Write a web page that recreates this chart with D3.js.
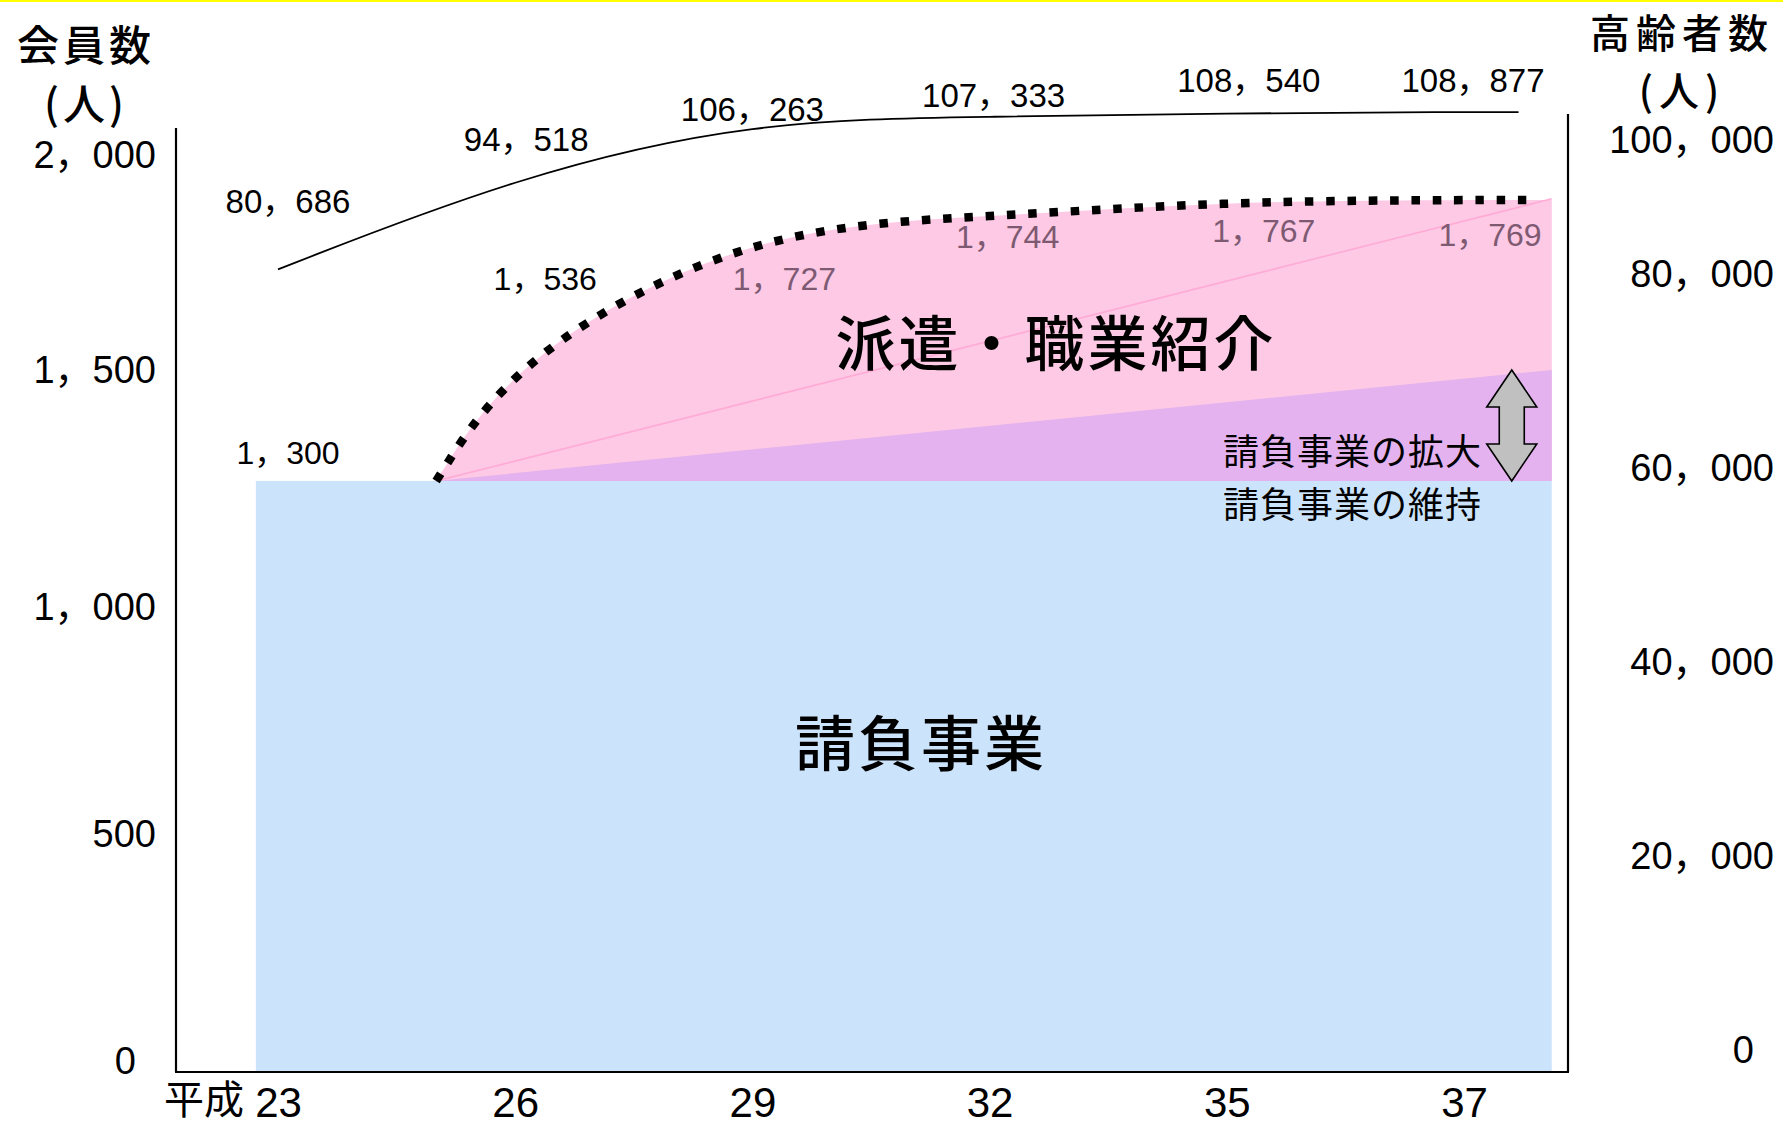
<!DOCTYPE html>
<html>
<head>
<meta charset="utf-8">
<script src="https://cdn.jsdelivr.net/npm/d3@7"></script>
<style>
  html, body { margin: 0; padding: 0; background: #ffffff; }
  svg { display: block; }
  .jp { font-family: "Noto Sans CJK JP", "Noto Sans", sans-serif; }
</style>
</head>
<body>
<svg id="chart" width="1783" height="1128"></svg>
<script>
// Fiscal years (Heisei) on the horizontal axis
const years = [23, 26, 29, 32, 35, 37];
// Registered members (left axis, persons)
const members = [1300, 1536, 1727, 1744, 1767, 1769];
// Elderly population (right axis, persons)
const elderly = [80686, 94518, 106263, 107333, 108540, 108877];
// Contracting business kept at its current level
const contractBase = 1300;
// Membership growth through dispatch / placement starts in H25
const growthStartYear = 25;
// Expanded contracting band: level at growth start and at period end
const contractExpansion = [1300, 1515];
// Axis tick values
const leftTicks = [0, 500, 1000, 1500, 2000];
const rightTicks = [0, 20000, 40000, 60000, 80000, 100000];

// ---- layout ----
const svg = d3.select("#chart");
const frame = { left: 176, right: 1568, bottom: 1072, topL: 128, topR: 114 };
const firstTickX = 278, tickStep = 237.2;
const periodStart = 22.72, periodEnd = 37.74, lineEnd = 37.46, dottedEnd = 37.58;

const x = d3.scaleLinear()
  .domain(years)
  .range(years.map((d, i) => firstTickX + i * tickStep));

const yL = d3.scaleLinear()
  .domain([0, contractBase, 1500, d3.max(members), 2000])
  .range([1071, 481, 380, 200, 165]);

const yR = d3.scaleLinear()
  .domain([0, 80000, 100000, 110000])
  .range([1050, 274, 140, 108.5]);

const fmt = v => d3.format(",")(v).replace(/,/g, "，");
const numFont = "'Liberation Sans','Noto Sans CJK JP',sans-serif";

// thin yellow rule at the top edge
svg.append("rect").attr("x", 0).attr("y", 0).attr("width", 1783).attr("height", 2).attr("fill", "#ffff00");

// ---- areas ----
const base = [{ yr: periodStart, v: contractBase }, { yr: periodEnd, v: contractBase }];
svg.append("path")
  .datum(base)
  .attr("fill", "#cce4fb")
  .attr("d", d3.area().x(d => x(d.yr)).y0(yL(0)).y1(d => yL(d.v)));

const growth = [{ yr: growthStartYear, v: contractBase }]
  .concat(years.slice(1).map((yr, i) => ({ yr, v: members[i + 1] })));
const lastMembers = members[members.length - 1];
const growthToEnd = growth.concat([{ yr: periodEnd, v: lastMembers }]);

svg.append("path")
  .datum(growthToEnd)
  .attr("fill", "#fdc9e4")
  .attr("d", d3.area().curve(d3.curveBasis)
    .x(d => x(d.yr)).y0(yL(contractBase)).y1(d => yL(d.v)));

const expansion = [
  { yr: growthStartYear, v: contractExpansion[0] },
  { yr: periodEnd, v: contractExpansion[1] }
];
svg.append("path")
  .datum(expansion)
  .attr("fill", "#e3b2ef")
  .attr("d", d3.area().x(d => x(d.yr)).y0(yL(contractBase)).y1(d => yL(d.v)));

// thin pink guide from growth start to the top corner
svg.append("path")
  .datum([{ yr: growthStartYear, v: contractBase }, { yr: periodEnd, v: lastMembers + 8 }])
  .attr("fill", "none")
  .attr("stroke", "#ffabd6")
  .attr("stroke-width", 1.6)
  .attr("d", d3.line().x(d => x(d.yr)).y(d => yL(d.v)));

// ---- dotted membership curve ----
const growthDotted = growth.concat([{ yr: dottedEnd, v: lastMembers }]);
svg.append("path")
  .datum(growthDotted)
  .attr("fill", "none")
  .attr("stroke", "#000")
  .attr("stroke-width", 8.5)
  .attr("stroke-dasharray", "8.5 12.8")
  .attr("d", d3.line().curve(d3.curveBasis).x(d => x(d.yr)).y(d => yL(d.v)));

// ---- elderly population line ----
const elderlyPts = years.map((yr, i) => ({ yr, v: elderly[i] }))
  .concat([{ yr: lineEnd, v: elderly[elderly.length - 1] }]);
svg.append("path")
  .datum(elderlyPts)
  .attr("fill", "none")
  .attr("stroke", "#000")
  .attr("stroke-width", 1.8)
  .attr("d", d3.line().curve(d3.curveBasis).x(d => x(d.yr)).y(d => yR(d.v)));

// ---- frame ----
function vline(x0, y0, y1) {
  svg.append("line").attr("x1", x0).attr("x2", x0).attr("y1", y0).attr("y2", y1)
    .attr("stroke", "#000").attr("stroke-width", 2.2);
}
vline(frame.left, frame.topL, frame.bottom);
vline(frame.right, frame.topR, frame.bottom);
svg.append("line").attr("x1", frame.left - 1).attr("x2", frame.right + 1)
  .attr("y1", frame.bottom).attr("y2", frame.bottom)
  .attr("stroke", "#000").attr("stroke-width", 2.2);

// ---- axes ----
const gL = svg.append("g")
  .attr("transform", `translate(${frame.left},-10)`)
  .call(d3.axisLeft(yL).tickValues(leftTicks).tickSize(0).tickPadding(20).tickFormat(fmt));
gL.select(".domain").remove();
gL.selectAll("text").attr("font-size", 38).attr("fill", "#000")
  .attr("font-family", numFont)
  .attr("dx", d => d === 0 ? -20 : 0);

const gR = svg.append("g")
  .attr("transform", `translate(${frame.right},0)`)
  .call(d3.axisRight(yR).tickValues(rightTicks).tickSize(0).tickFormat(fmt));
gR.select(".domain").remove();
gR.selectAll("text").attr("font-size", 38).attr("fill", "#000")
  .attr("text-anchor", "end").attr("x", 206)
  .attr("font-family", numFont)
  .attr("dx", d => d === 0 ? -20 : 0);

const gX = svg.append("g")
  .attr("transform", `translate(0,${frame.bottom})`)
  .call(d3.axisBottom(x).tickValues(years).tickSize(0).tickPadding(15).tickFormat(d => d));
gX.select(".domain").remove();
gX.selectAll("text").attr("font-size", 42).attr("fill", "#000")
  .attr("font-family", "'Liberation Sans',sans-serif");
svg.append("text")
  .attr("class", "jp")
  .attr("x", x(years[0]) - 34).attr("y", frame.bottom + 42)
  .attr("text-anchor", "end").attr("font-size", 40).attr("fill", "#000")
  .text("平成");

// ---- axis titles (two lines each) ----
function title(tx, lines, baselines, size, spacing) {
  const t = svg.append("text").attr("class", "jp")
    .attr("text-anchor", "middle")
    .attr("font-size", size).attr("font-weight", 500)
    .attr("letter-spacing", spacing).attr("fill", "#000");
  lines.forEach((s, i) => t.append("tspan")
    .attr("x", tx + spacing / 2).attr("y", baselines[i]).text(s));
}
title(84, ["会員数", "(人)"], [61, 120], 42, 4);
title(1679, ["高齢者数", "(人)"], [48, 106], 40, 6);

// ---- value labels ----
const memberLabelDx = [10, 30, 32, 18, 37, 26];
const memberLabelDy = [-28, -77, 51, 20, 30, 35];
const memberLabelInside = [false, false, true, true, true, true];
svg.append("g").selectAll("text")
  .data(members)
  .join("text")
  .attr("font-family", numFont)
  .attr("x", (d, i) => x(years[i]) + memberLabelDx[i])
  .attr("y", (d, i) => yL(d) + memberLabelDy[i])
  .attr("text-anchor", "middle").attr("dominant-baseline", "central")
  .attr("font-size", 32)
  .attr("fill", (d, i) => memberLabelInside[i] ? "#7d5a72" : "#000")
  .text(fmt);

const elderLabelDx = [10, 11, 0, 4, 22, 9];
const elderLabelDy = [-68, -37, -11, -21, -33, -32];
svg.append("g").selectAll("text")
  .data(elderly)
  .join("text")
  .attr("font-family", numFont)
  .attr("x", (d, i) => x(years[i]) + elderLabelDx[i])
  .attr("y", (d, i) => yR(d) + elderLabelDy[i])
  .attr("text-anchor", "middle").attr("dominant-baseline", "central")
  .attr("font-size", 33).attr("fill", "#000")
  .text(fmt);

// ---- region captions ----
svg.append("text").attr("class", "jp")
  .attr("x", 1056).attr("y", 339).attr("text-anchor", "middle").attr("dominant-baseline", "central")
  .attr("font-size", 60).attr("font-weight", 500).attr("letter-spacing", 3).attr("fill", "#000")
  .text("派遣・職業紹介");
svg.append("text").attr("class", "jp")
  .attr("x", 921).attr("y", 739).attr("text-anchor", "middle").attr("dominant-baseline", "central")
  .attr("font-size", 60).attr("font-weight", 500).attr("letter-spacing", 3).attr("fill", "#000")
  .text("請負事業");
const band = svg.append("text").attr("class", "jp")
  .attr("font-size", 36).attr("letter-spacing", 1).attr("fill", "#000");
band.append("tspan").attr("x", 1223).attr("y", 465).text("請負事業の拡大");
band.append("tspan").attr("x", 1223).attr("y", 518).text("請負事業の維持");

// ---- double-headed arrow spanning the expansion band ----
const ax = x(periodEnd) - 40;
const aTop = yL(contractExpansion[1]), aBot = yL(contractBase);
const headW = 25, shaftW = 12.5, headL = 37;
const arrowPts = [
  [ax, aTop], [ax + headW, aTop + headL], [ax + shaftW, aTop + headL],
  [ax + shaftW, aBot - headL], [ax + headW, aBot - headL], [ax, aBot],
  [ax - headW, aBot - headL], [ax - shaftW, aBot - headL],
  [ax - shaftW, aTop + headL], [ax - headW, aTop + headL]
];
svg.append("path")
  .attr("d", d3.line()(arrowPts) + "Z")
  .attr("fill", "#c0c0c0").attr("stroke", "#000").attr("stroke-width", 1.6)
  .attr("stroke-linejoin", "miter");
</script>
</body>
</html>
